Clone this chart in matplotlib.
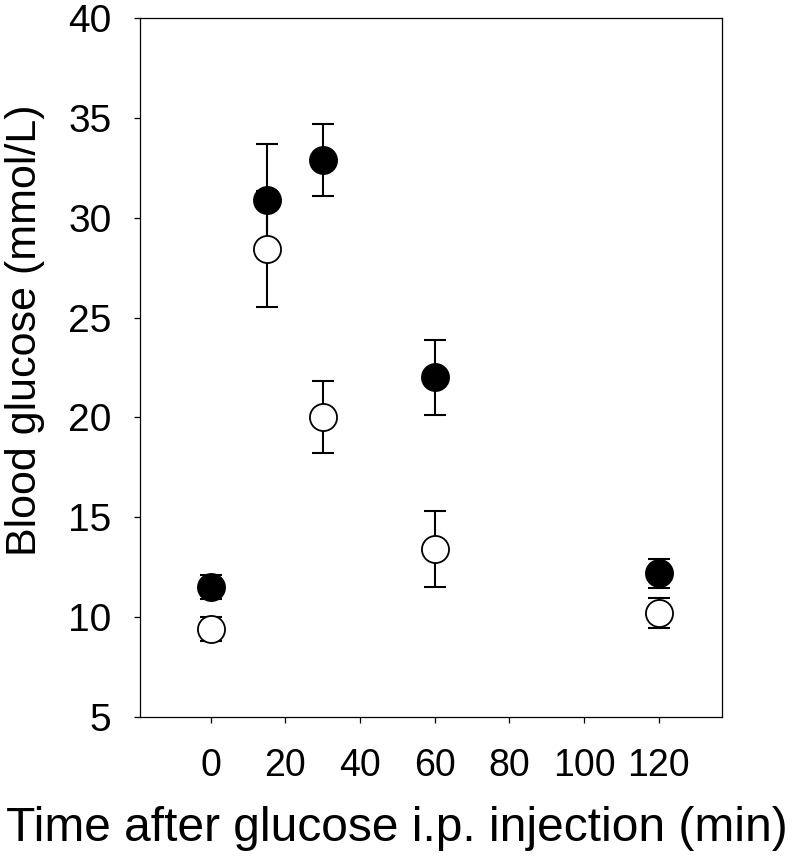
import numpy as np
import matplotlib
matplotlib.use("Agg")
import matplotlib.pyplot as plt

plt.rcParams['font.family'] = ['Liberation Sans', 'DejaVu Sans']

# Data
time_min = [0, 15, 30, 60, 120]
glucose_filled = [11.5, 30.9, 32.9, 22.0, 12.2]
err_filled = [0.6, 2.8, 1.8, 1.9, 0.73]
glucose_open = [9.4, 28.45, 20.0, 13.4, 10.2]
err_open = [0.6, 2.9, 1.8, 1.9, 0.75]

x_ticks = [0, 20, 40, 60, 80, 100, 120]
y_ticks = [5, 10, 15, 20, 25, 30, 35, 40]

fig = plt.figure(figsize=(7.95, 8.61), dpi=100)
ax = fig.add_axes([140 / 795, 1 - 717 / 861, 582 / 795, 699 / 861])

# error bars first, markers on top
for y, e in [(glucose_filled, err_filled), (glucose_open, err_open)]:
    ax.errorbar(time_min, y, yerr=e, fmt='none', ecolor='black',
                elinewidth=1.5, capsize=8, capthick=1.5, zorder=2)

ax.plot(time_min, glucose_filled, 'o', ms=19.5, mfc='black', mec='black',
        mew=1.3, zorder=3)
ax.plot(time_min, glucose_open, 'o', ms=19.5, mfc='white', mec='black',
        mew=1.3, zorder=3)

ax.set_xlim(-19, 137)
ax.set_ylim(5, 40)
ax.set_xticks(x_ticks)
ax.set_yticks(y_ticks)

for s in ax.spines.values():
    s.set_linewidth(0.9)

ax.tick_params(axis='both', direction='out', length=4.5, width=0.9)
ax.tick_params(axis='y', pad=16, labelsize=28)
ax.tick_params(axis='x', pad=18, labelsize=27)

ax.set_xlabel('Time after glucose i.p. injection (min)', fontsize=34.5,
              va='center')
ax.xaxis.set_label_coords(0.4416, -0.159)
ax.set_ylabel('Blood glucose (mmol/L)', fontsize=31, va='center')
ax.yaxis.set_label_coords(-0.198, 0.554)

fig.savefig('out.png', dpi=100)
